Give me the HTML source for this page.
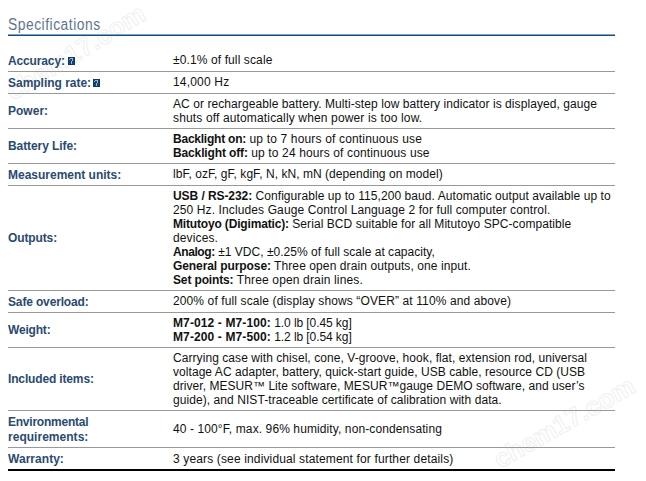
<!DOCTYPE html>
<html><head><meta charset="utf-8">
<style>
html,body{margin:0;padding:0;background:#fff;}
body{width:646px;height:481px;overflow:hidden;position:relative;font-family:"Liberation Sans",sans-serif;}
.h{position:absolute;left:8px;top:16px;margin:0;font-weight:normal;font-size:16px;line-height:17px;color:#5f7691;white-space:nowrap;letter-spacing:0.6px;transform:scaleX(0.865);transform-origin:0 0;}
.hr1{position:absolute;left:8px;width:607px;top:34px;height:1px;background:#72a5d0;}
.hr2{position:absolute;left:8px;width:607px;top:35px;height:1px;background:#1e4b71;}
table{position:absolute;left:8px;top:50px;width:607px;border-collapse:collapse;border-spacing:0;border-bottom:2px solid #000;}
td{padding:3px 0;vertical-align:middle;font-size:12px;}
td.l{width:165px;color:#2a4a70;font-weight:bold;line-height:15px;white-space:nowrap;}
td.v{line-height:14px;color:#111;white-space:nowrap;}
tr+tr td{border-top:1px solid #999;}
.q{position:absolute;width:7px;height:8px;}
.q svg{display:block;}
tr.ls td.l span{position:relative;top:1px;}
tr.vs td.v div{position:relative;top:-1px;}

.wm{position:absolute;left:0;top:0;}
</style></head>
<body>
<svg class="wm" width="646" height="481" viewBox="0 0 646 481"><g font-family="Liberation Sans" font-size="26" font-weight="bold" fill="none" stroke="#f0f0f0" stroke-width="1"><text transform="translate(13,101) rotate(-31.5)">chem17.com</text><text transform="translate(500,469) rotate(-29.5)">chem17.com</text></g></svg>
<div class="h">Specifications</div>
<div class="hr1"></div><div class="hr2"></div>
<table>
<tr class="ls vs"><td class="l"><span id="L0_0" style="letter-spacing:-0.138px">Accuracy:</span></td><td class="v"><div><span id="V0_0_0" style="letter-spacing:0.113px">±0.1% of full scale</span></div></td></tr>
<tr class="ls vs"><td class="l"><span id="L1_0" style="letter-spacing:-0.019px">Sampling rate:</span></td><td class="v"><div><span id="V1_0_0" style="letter-spacing:0.180px">14,000 Hz</span></div></td></tr>
<tr><td class="l"><span id="L2_0" style="letter-spacing:0.010px">Power:</span></td><td class="v"><div><span id="V2_0_0" style="letter-spacing:0.076px">AC or rechargeable battery. Multi-step low battery indicator is displayed, gauge</span></div><div><span id="V2_1_0" style="letter-spacing:0.146px">shuts off automatically when power is too low.</span></div></td></tr>
<tr><td class="l"><span id="L3_0" style="letter-spacing:-0.083px">Battery Life:</span></td><td class="v"><div><b id="V3_0_0" style="letter-spacing:-0.230px">Backlight on:</b><span id="V3_0_1" style="letter-spacing:0.162px"> up to 7 hours of continuous use</span></div><div><b id="V3_1_0" style="letter-spacing:-0.134px">Backlight off:</b><span id="V3_1_1" style="letter-spacing:0.133px"> up to 24 hours of continuous use</span></div></td></tr>
<tr class="ls vs"><td class="l"><span id="L4_0" style="letter-spacing:-0.009px">Measurement units:</span></td><td class="v"><div><span id="V4_0_0" style="letter-spacing:0.047px">lbF, ozF, gF, kgF, N, kN, mN (depending on model)</span></div></td></tr>
<tr><td class="l"><span id="L5_0" style="letter-spacing:-0.121px">Outputs:</span></td><td class="v"><div><b id="V5_0_0" style="letter-spacing:-0.072px">USB / RS-232:</b><span id="V5_0_1" style="letter-spacing:0.070px"> Configurable up to 115,200 baud. Automatic output available up to</span></div><div><span id="V5_1_0" style="letter-spacing:0.115px">250 Hz. Includes Gauge Control Language 2 for full computer control.</span></div><div><b id="V5_2_0" style="letter-spacing:-0.165px">Mitutoyo (Digimatic):</b><span id="V5_2_1" style="letter-spacing:0.071px"> Serial BCD suitable for all Mitutoyo SPC-compatible</span></div><div><span id="V5_3_0" style="letter-spacing:0.130px">devices.</span></div><div><b id="V5_4_0" style="letter-spacing:-0.413px">Analog:</b><span id="V5_4_1" style="letter-spacing:0.023px"> ±1 VDC, ±0.25% of full scale at capacity,</span></div><div><b id="V5_5_0" style="letter-spacing:-0.093px">General purpose:</b><span id="V5_5_1" style="letter-spacing:0.094px"> Three open drain outputs, one input.</span></div><div><b id="V5_6_0" style="letter-spacing:-0.140px">Set points:</b><span id="V5_6_1" style="letter-spacing:0.152px"> Three open drain lines.</span></div></td></tr>
<tr class="ls vs"><td class="l"><span id="L6_0" style="letter-spacing:-0.150px">Safe overload:</span></td><td class="v"><div><span id="V6_0_0" style="letter-spacing:0.116px">200% of full scale (display shows “OVER” at 110% and above)</span></div></td></tr>
<tr><td class="l"><span id="L7_0" style="letter-spacing:-0.183px">Weight:</span></td><td class="v"><div><b id="V7_0_0" style="letter-spacing:0.120px">M7-012 - M7-100:</b><span id="V7_0_1" style="letter-spacing:-0.082px"> 1.0 lb [0.45 kg]</span></div><div><b id="V7_1_0" style="letter-spacing:0.120px">M7-200 - M7-500:</b><span id="V7_1_1" style="letter-spacing:-0.082px"> 1.2 lb [0.54 kg]</span></div></td></tr>
<tr><td class="l"><span id="L8_0" style="letter-spacing:-0.150px">Included items:</span></td><td class="v"><div><span id="V8_0_0" style="letter-spacing:0.066px">Carrying case with chisel, cone, V-groove, hook, flat, extension rod, universal</span></div><div><span id="V8_1_0" style="letter-spacing:0.056px">voltage AC adapter, battery, quick-start guide, USB cable, resource CD (USB</span></div><div><span id="V8_2_0" style="letter-spacing:0.048px">driver, MESUR™ Lite software, MESUR™gauge DEMO software, and user’s</span></div><div><span id="V8_3_0" style="letter-spacing:0.071px">guide), and NIST-traceable certificate of calibration with data.</span></div></td></tr>
<tr class="ls"><td class="l"><span id="L9_0" style="letter-spacing:-0.233px">Environmental</span><br><span id="L9_1" style="letter-spacing:0.025px">requirements:</span></td><td class="v"><div><span id="V9_0_0" style="letter-spacing:0.104px">40 - 100°F, max. 96% humidity, non-condensating</span></div></td></tr>
<tr class="ls"><td class="l"><span id="L10_0" style="letter-spacing:0.038px">Warranty:</span></td><td class="v"><div><span id="V10_0_0" style="letter-spacing:0.141px">3 years (see individual statement for further details)</span></div></td></tr>
</table>
<div class="q" style="left:68px;top:57px"><svg width="7" height="8" viewBox="0 0 7 8"><rect width="7" height="8" fill="#1a426c"/><rect x="0" y="0" width="7" height="8" fill="none" stroke="#122f4f" stroke-width="1"/><path d="M2 1h3v1h-3zM1 2h1v1h-1zM4 2h1v2h-1zM3 4h1v2h-1zM3 6h1v1h-1z" fill="#86bde8"/></svg></div>
<div class="q" style="left:93px;top:79px"><svg width="7" height="8" viewBox="0 0 7 8"><rect width="7" height="8" fill="#1a426c"/><rect x="0" y="0" width="7" height="8" fill="none" stroke="#122f4f" stroke-width="1"/><path d="M2 1h3v1h-3zM1 2h1v1h-1zM4 2h1v2h-1zM3 4h1v2h-1zM3 6h1v1h-1z" fill="#86bde8"/></svg></div>
</body></html>
